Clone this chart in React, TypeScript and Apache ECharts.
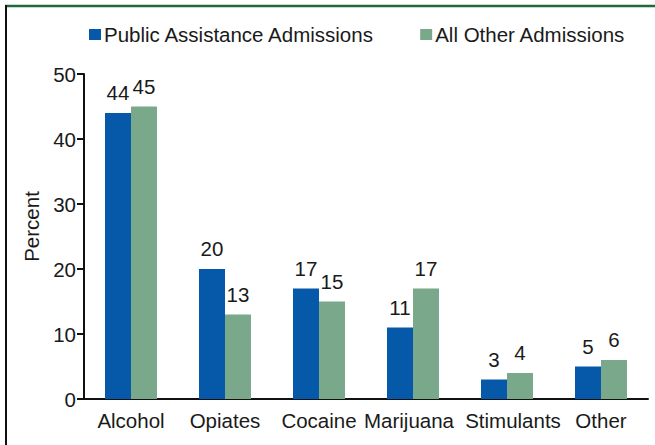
import React, { useEffect, useRef } from "react";
import * as echarts from "echarts";

const categories = ["Alcohol", "Opiates", "Cocaine", "Marijuana", "Stimulants", "Other"];
const publicAssistance = [44, 20, 17, 11, 3, 5];
const allOther = [45, 13, 15, 17, 4, 6];
const seriesNames = ["Public Assistance Admissions", "All Other Admissions"];
const yTicks = { min: 0, max: 50, interval: 10 };

const FONT = "'Liberation Sans', Arial, Helvetica, sans-serif";
const FS = 20.5;
const TEXT = "#1a1a1a";
const BLUE = "#0559a8";
const GREEN = "#79a88b";

export default function App() {
  const ref = useRef<HTMLDivElement>(null);
  useEffect(() => {
    if (!ref.current) return;
    const chart = echarts.init(ref.current, undefined, { renderer: "svg" });
    const labelStyle = {
      show: true,
      position: "top" as const,
      distance: 10,
      color: TEXT,
      fontSize: FS,
      fontFamily: FONT,
    };
    const baseRich = { fontSize: FS, color: TEXT, fontFamily: FONT };
    chart.setOption({
      animation: false,
      backgroundColor: "#ffffff",
      textStyle: { fontFamily: FONT, color: TEXT },
      graphic: [
        {
          type: "line",
          shape: { x1: 5, y1: 6, x2: 655, y2: 6 },
          style: { stroke: "#1f6a3d", lineWidth: 2.5 },
        },
        {
          type: "line",
          shape: { x1: 6, y1: 5, x2: 6, y2: 445 },
          style: { stroke: "#111111", lineWidth: 2 },
        },
      ],
      legend: {
        left: 84,
        top: 19,
        itemWidth: 12,
        itemHeight: 11,
        itemGap: 45,
        icon: "rect",
        textStyle: { fontSize: FS, color: TEXT, fontFamily: FONT, padding: [0, 0, 0, -2] },
        data: seriesNames,
      },
      grid: { left: 84, right: 7, top: 74, bottom: 46, containLabel: false },
      xAxis: {
        type: "category",
        data: categories,
        axisLine: { lineStyle: { color: "#111", width: 2 } },
        axisTick: { show: false },
        axisLabel: {
          fontSize: FS,
          color: TEXT,
          fontFamily: FONT,
          margin: 11,
          interval: 0,
          formatter: (v: string) =>
            v === "Marijuana" ? `{l|${v}}` : v === "Stimulants" ? `{r|${v}}` : `{n|${v}}`,
          rich: {
            n: { ...baseRich },
            l: { ...baseRich, padding: [0, 8, 0, 0] },
            r: { ...baseRich, padding: [0, 0, 0, 12] },
          },
        },
      },
      yAxis: {
        type: "value",
        min: yTicks.min,
        max: yTicks.max,
        interval: yTicks.interval,
        name: "Percent",
        nameLocation: "middle",
        nameGap: 37,
        nameTextStyle: { fontSize: FS, color: TEXT, fontFamily: FONT, padding: [0, 0, 0, 20] },
        axisLine: { show: true, lineStyle: { color: "#111", width: 2 } },
        axisTick: { show: true, length: 7, lineStyle: { color: "#111", width: 2 } },
        axisLabel: { fontSize: FS, color: TEXT, fontFamily: FONT, margin: 8 },
        splitLine: { show: false },
      },
      series: [
        {
          name: seriesNames[0],
          type: "bar",
          data: publicAssistance,
          barWidth: 26,
          barGap: "0%",
          itemStyle: { color: BLUE },
          label: labelStyle,
        },
        {
          name: seriesNames[1],
          type: "bar",
          data: allOther,
          barWidth: 26,
          barGap: "0%",
          itemStyle: { color: GREEN },
          label: labelStyle,
        },
      ],
    });
    return () => chart.dispose();
  }, []);
  return (
    <div
      ref={ref}
      style={{ position: "absolute", left: 0, top: 0, width: 655, height: 445 }}
    />
  );
}
